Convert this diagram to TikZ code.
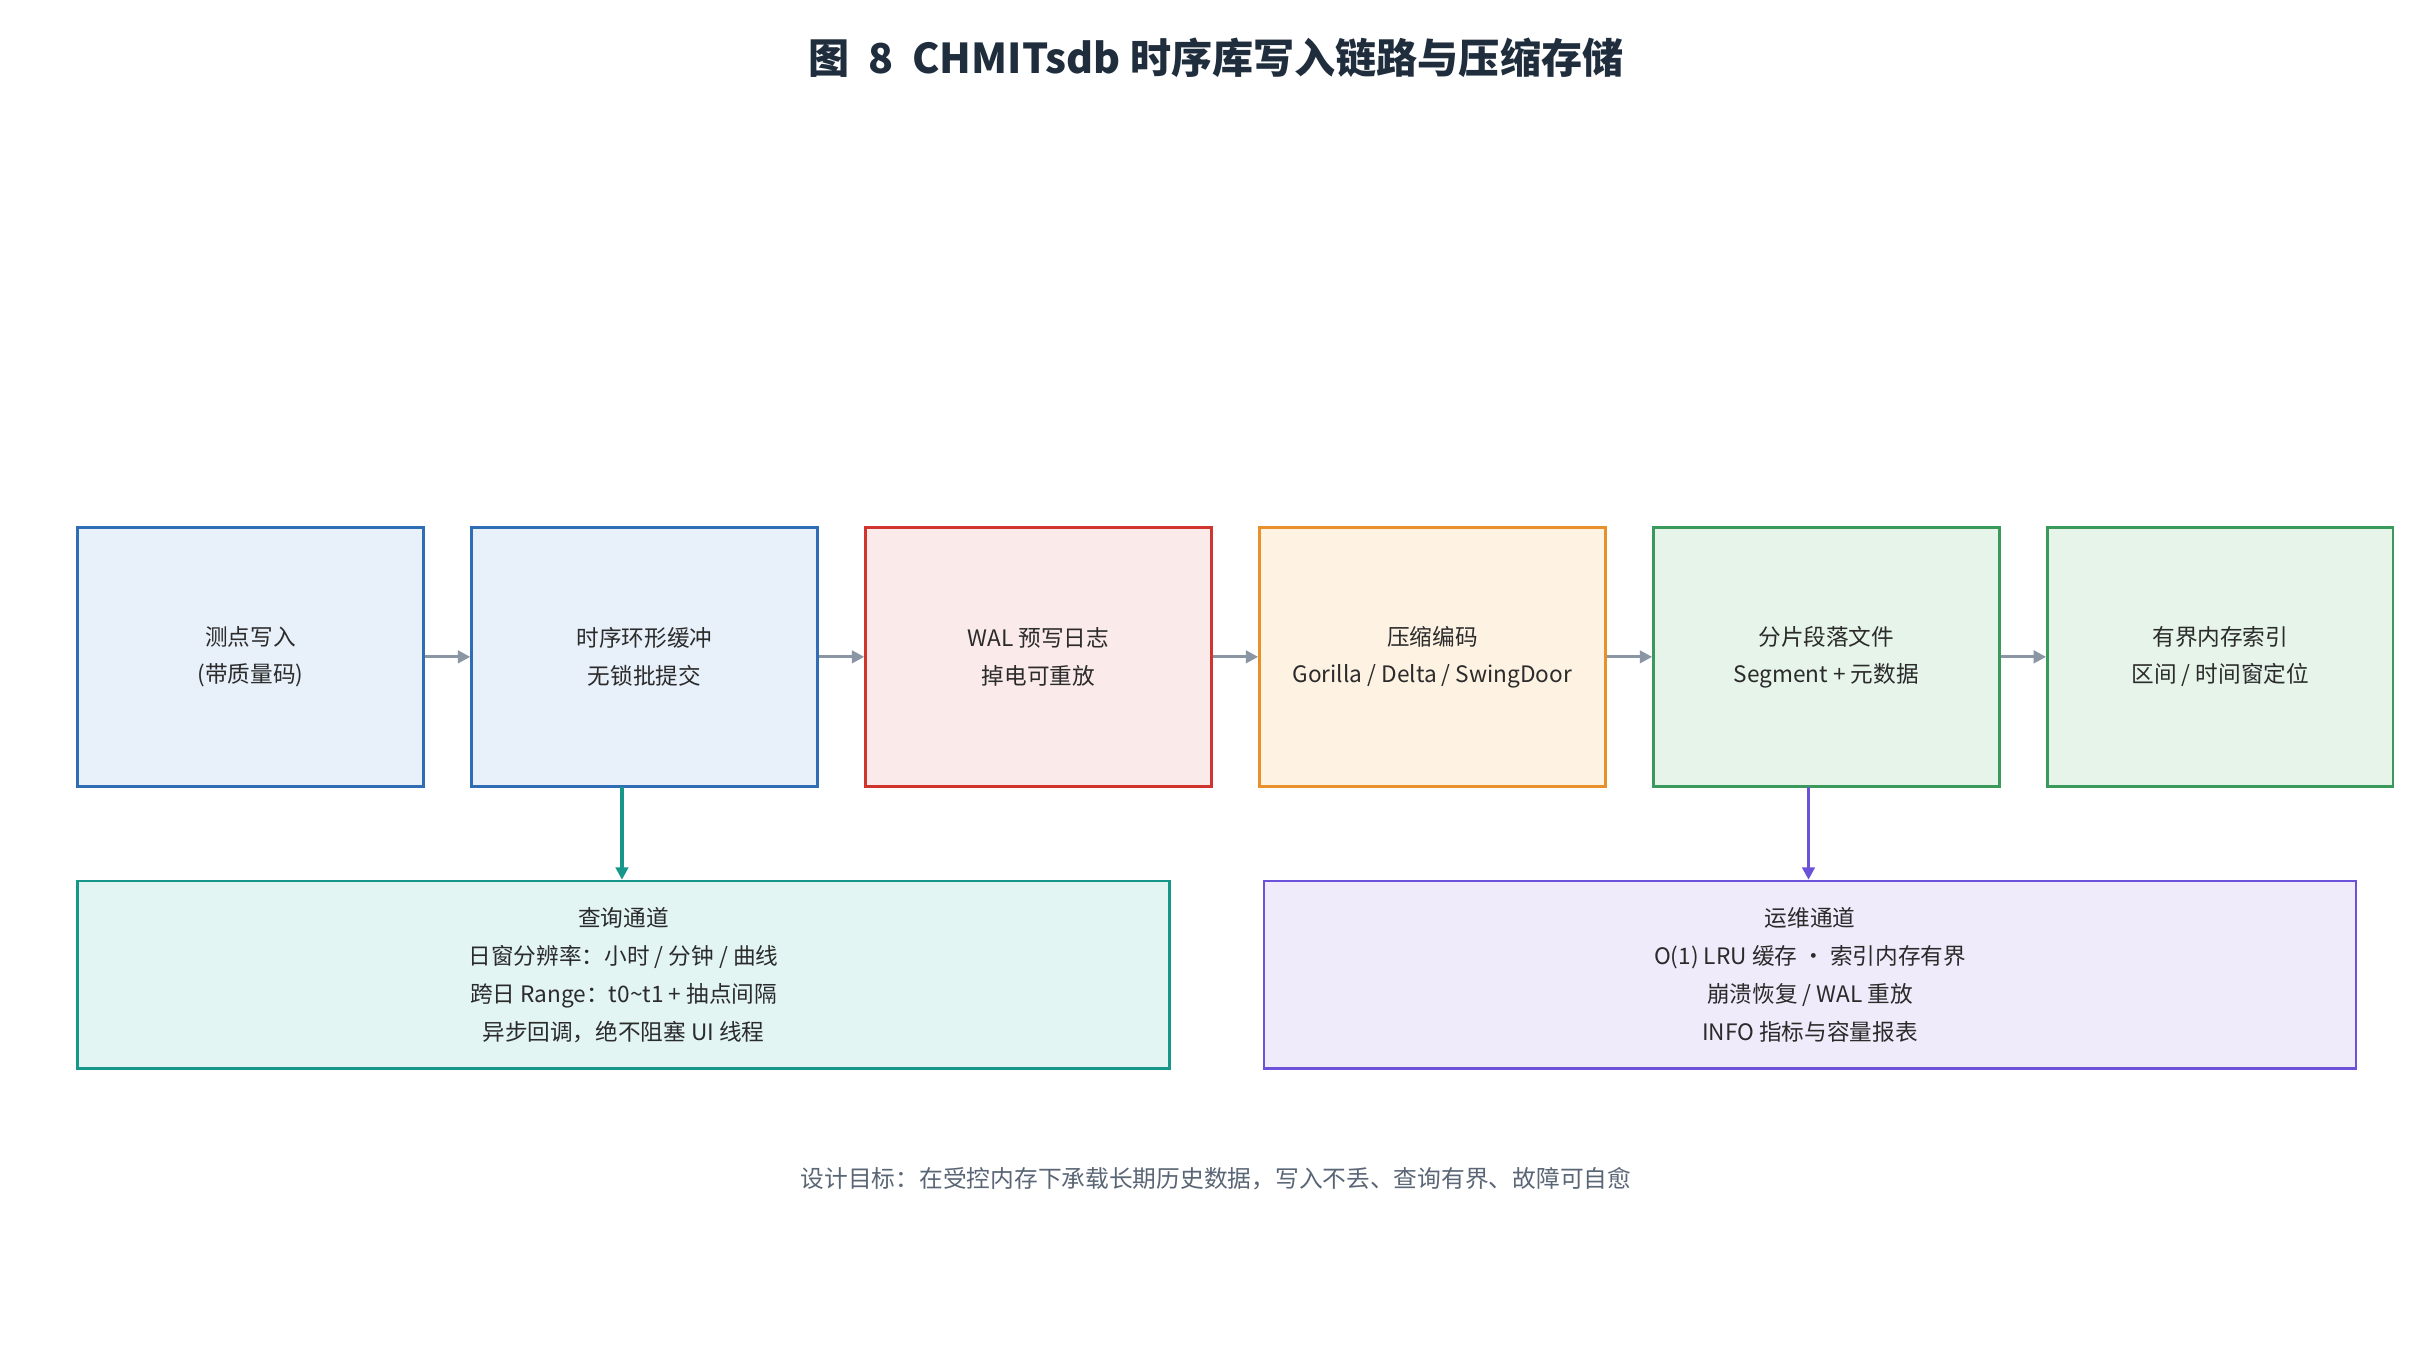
\documentclass[tikz,border=0pt]{standalone}
\usepackage{fontspec}
\setmainfont{Noto Sans CJK SC}
\usetikzlibrary{arrows.meta}
\definecolor{bB}{HTML}{2F6DB5}\definecolor{bF}{HTML}{E8F0FA}
\definecolor{rB}{HTML}{D0342C}\definecolor{rF}{HTML}{FBEAEA}
\definecolor{oB}{HTML}{E8902A}\definecolor{oF}{HTML}{FEF2E3}
\definecolor{gB}{HTML}{3A9A5B}\definecolor{gF}{HTML}{E6F4EA}
\definecolor{tB}{HTML}{17968A}\definecolor{tF}{HTML}{E2F5F3}
\definecolor{pB}{HTML}{6B52D9}\definecolor{pF}{HTML}{EFEBFA}
\definecolor{arr}{HTML}{8A96A3}
\definecolor{txt}{HTML}{2B2B2B}
\definecolor{ttl}{HTML}{1F2D3D}
\definecolor{ft}{HTML}{5A6675}
\begin{document}
\begin{tikzpicture}[x=1pt,y=-1pt,
 box/.style={draw,line width=1.6pt,minimum width=223pt,minimum height=167pt,align=center,font=\fontsize{14.6}{24}\selectfont,text=txt,inner sep=0pt},
 wbox/.style={draw,line width=1.6pt,minimum width=704pt,minimum height=121pt,align=center,font=\fontsize{14.6}{24.5}\selectfont,text=txt,inner sep=0pt},
 ar/.style={line width=2pt,-{Triangle[length=8pt,width=8pt]}}]
\useasboundingbox (0,0) rectangle (1568,870);
\fill[white] (0,0) rectangle (1568,870);
\node[font=\fontsize{26.5}{30}\selectfont\bfseries,text=ttl] (title) at (784,37) {图\ \ 8\ \ CHMITsdb 时序库写入链路与压缩存储};
\node[box,draw=bB,fill=bF] (a) at (161.5,423.5) {测点写入\\(带质量码)};
\node[box,draw=bB,fill=bF] (b) at (415.5,423.5) {时序环形缓冲\\无锁批提交};
\node[box,draw=rB,fill=rF] (c) at (669.5,423.5) {WAL 预写日志\\掉电可重放};
\node[box,draw=oB,fill=oF] (d) at (923.5,423.5) {压缩编码\\Gorilla / Delta / SwingDoor};
\node[box,draw=gB,fill=gF] (e) at (1177.5,423.5) {分片段落文件\\Segment + 元数据};
\node[box,draw=gB,fill=gF] (f) at (1431.5,423.5) {有界内存索引\\区间 / 时间窗定位};
\node[wbox,draw=tB,fill=tF] (q) at (402,628.5) {查询通道\\日窗分辨率：小时 / 分钟 / 曲线\\跨日 Range：t0\textasciitilde t1 + 抽点间隔\\异步回调，绝不阻塞 UI 线程};
\node[wbox,draw=pB,fill=pF] (o) at (1167,628.5) {运维通道\\O(1) LRU 缓存 · 索引内存有界\\崩溃恢复 / WAL 重放\\INFO 指标与容量报表};
\foreach \u/\v in {a/b,b/c,c/d,d/e,e/f}
  \draw[ar,arr] (\u.east) -- (\v.west);
\coordinate (bq) at (401,507.5);
\coordinate (eo) at (1166,507.5);
\draw[ar,tB] (bq) -- (bq |- q.north);
\draw[ar,pB] (eo) -- (eo |- o.north);
\node[font=\fontsize{15.3}{17}\selectfont,text=ft] (foot) at (784,760) {设计目标：在受控内存下承载长期历史数据，写入不丢、查询有界、故障可自愈};
\end{tikzpicture}
\end{document}
